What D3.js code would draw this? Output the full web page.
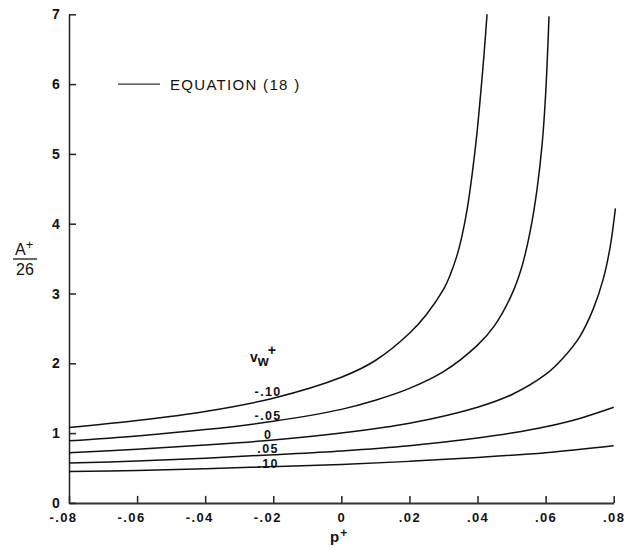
<!DOCTYPE html>
<html>
<head>
<meta charset="utf-8">
<script src="https://cdn.jsdelivr.net/npm/d3@7"></script>
<style>
  body { margin: 0; background: #fff; }
  text { font-family: "Liberation Sans", Arial, sans-serif; fill: #111; }
</style>
</head>
<body>
<svg id="chart" width="639" height="549"></svg>
<script>
// A+/26 versus p+ for several wall-transpiration rates v_w+
const vwLabels = ["-.10", "-.05", "0", ".05", ".10"];

const pVwM10 = [-0.08, -0.06, -0.04, -0.02, 0, 0.01, 0.02, 0.025, 0.03, 0.032, 0.034, 0.0355, 0.037, 0.0385, 0.0398, 0.0409, 0.0419, 0.0428];
const aVwM10 = [1.08, 1.18, 1.31, 1.50, 1.80, 2.04, 2.43, 2.70, 3.06, 3.27, 3.55, 3.84, 4.22, 4.74, 5.28, 5.85, 6.42, 7.0];

const pVwM05 = [-0.08, -0.06, -0.04, -0.02, 0, 0.01, 0.02, 0.03, 0.04, 0.045, 0.05, 0.053, 0.0555, 0.0575, 0.059, 0.060, 0.061];
const aVwM05 = [0.89, 0.96, 1.05, 1.17, 1.34, 1.47, 1.64, 1.88, 2.26, 2.54, 2.98, 3.38, 3.90, 4.50, 5.15, 5.85, 6.97];

const pVw0 = [-0.08, -0.06, -0.04, -0.02, 0, 0.02, 0.04, 0.05, 0.06, 0.065, 0.07, 0.074, 0.077, 0.079, 0.0805];
const aVw0 = [0.72, 0.77, 0.83, 0.90, 1.00, 1.14, 1.37, 1.55, 1.84, 2.07, 2.38, 2.78, 3.22, 3.68, 4.22];

const pVwP05 = [-0.08, -0.06, -0.04, -0.02, 0, 0.02, 0.04, 0.05, 0.06, 0.07, 0.08];
const aVwP05 = [0.57, 0.60, 0.64, 0.69, 0.745, 0.82, 0.93, 1.00, 1.09, 1.21, 1.37];

const pVwP10 = [-0.08, -0.06, -0.04, -0.02, 0, 0.02, 0.04, 0.06, 0.08];
const aVwP10 = [0.45, 0.465, 0.49, 0.52, 0.55, 0.595, 0.65, 0.72, 0.82];

const xTicks = [-0.08, -0.06, -0.04, -0.02, 0, 0.02, 0.04, 0.06, 0.08];
const xTickLabels = ["-.08", "-.06", "-.04", "-.02", "0", ".02", ".04", ".06", ".08"];
const yTicks = [0, 1, 2, 3, 4, 5, 6, 7];

const series = [
  { label: vwLabels[0], p: pVwM10, a: aVwM10, lift: 3 },
  { label: vwLabels[1], p: pVwM05, a: aVwM05, lift: 2 },
  { label: vwLabels[2], p: pVw0,   a: aVw0,   lift: 1.5 },
  { label: vwLabels[3], p: pVwP05, a: aVwP05, lift: 2 },
  { label: vwLabels[4], p: pVwP10, a: aVwP10, lift: -1 }
];

const svg = d3.select("#chart");
const x = d3.scaleLinear().domain([-0.08, 0.08]).range([69, 613.7]);
const y = d3.scaleLinear().domain([0, 7]).range([502.9, 14.3]);

// x axis with inward ticks
const gx = svg.append("g").attr("transform", `translate(0,${y(0)})`)
  .call(d3.axisBottom(x).tickValues(xTicks).tickSizeInner(-7).tickSizeOuter(0)
    .tickFormat((d, i) => xTickLabels[i]));
gx.select(".domain").attr("stroke", "#333").attr("stroke-width", 2);
gx.selectAll(".tick line").attr("stroke", "#222").attr("stroke-width", 1.5);
gx.selectAll(".tick text")
  .attr("y", 19.6).attr("dy", 0)
  .attr("dx", d => d < 0 ? -6 : 0)
  .style("font-family", "'Liberation Sans', Arial, sans-serif")
  .style("font-size", "13px").style("font-weight", "bold")
  .style("letter-spacing", "1.4px").attr("fill", "#111");

// y axis with inward ticks
const gy = svg.append("g").attr("transform", `translate(${x(-0.08)},0)`)
  .call(d3.axisLeft(y).tickValues(yTicks).tickSizeInner(-7).tickSizeOuter(0)
    .tickFormat(d3.format("d")));
gy.select(".domain").attr("stroke", "#222").attr("stroke-width", 1.5);
gy.selectAll(".tick line").attr("stroke", "#222").attr("stroke-width", 1.5);
gy.selectAll(".tick text")
  .attr("x", -13).attr("text-anchor", "middle").attr("dy", "0.33em")
  .style("font-family", "'Liberation Sans', Arial, sans-serif")
  .style("font-size", "14px").style("font-weight", "bold").attr("fill", "#111");

// curves
const line = d3.line().x(d => x(d[0])).y(d => y(d[1])).curve(d3.curveCatmullRom.alpha(0.5));
series.forEach(s => {
  const pts = s.p.map((p, i) => [p, s.a[i]]);
  svg.append("path").datum(pts)
    .attr("d", line).attr("fill", "none")
    .attr("stroke", "#111").attr("stroke-width", 1.5);
});

// curve labels sitting on each curve near p+ = -.022
const labelP = -0.0215;
series.forEach(s => {
  const aAt = d3.scaleLinear().domain(s.p).range(s.a)(labelP);
  svg.append("text")
    .attr("x", x(labelP)).attr("y", y(aAt) - s.lift)
    .attr("text-anchor", "middle")
    .style("font-size", "12.5px").style("font-weight", "bold")
    .style("letter-spacing", "1.4px")
    .text(s.label);
});

// v_w+ heading over the labels
const vh = svg.append("text").attr("x", 250).attr("y", 362)
  .style("font-size", "14px").style("font-weight", "bold");
vh.append("tspan").text("v");
vh.append("tspan").attr("dy", 4).text("w");
vh.append("tspan").attr("dy", -11).attr("dx", -1).text("+");

// legend
svg.append("line").attr("x1", 118).attr("x2", 160)
  .attr("y1", y(6)).attr("y2", y(6))
  .attr("stroke", "#333").attr("stroke-width", 1.2);
svg.append("text").attr("x", 170).attr("y", y(6) + 5.5)
  .style("font-size", "15px").style("letter-spacing", "1.3px")
  .text("EQUATION (18 )");

// axis titles
const px = svg.append("text").attr("x", 330).attr("y", 542)
  .style("font-size", "15px").style("font-weight", "bold");
px.append("tspan").text("p");
px.append("tspan").attr("dy", -5).attr("dx", 1).style("font-size", "12px").text("+");

const ya = svg.append("text").attr("x", 15).attr("y", 255)
  .style("font-size", "16px");
ya.append("tspan").text("A");
ya.append("tspan").attr("dy", -6).style("font-size", "13px").text("+");
svg.append("line").attr("x1", 13).attr("x2", 37).attr("y1", 259).attr("y2", 259)
  .attr("stroke", "#111").attr("stroke-width", 1.3);
svg.append("text").attr("x", 25).attr("y", 275).attr("text-anchor", "middle")
  .style("font-size", "16px").text("26");
</script>
</body>
</html>
